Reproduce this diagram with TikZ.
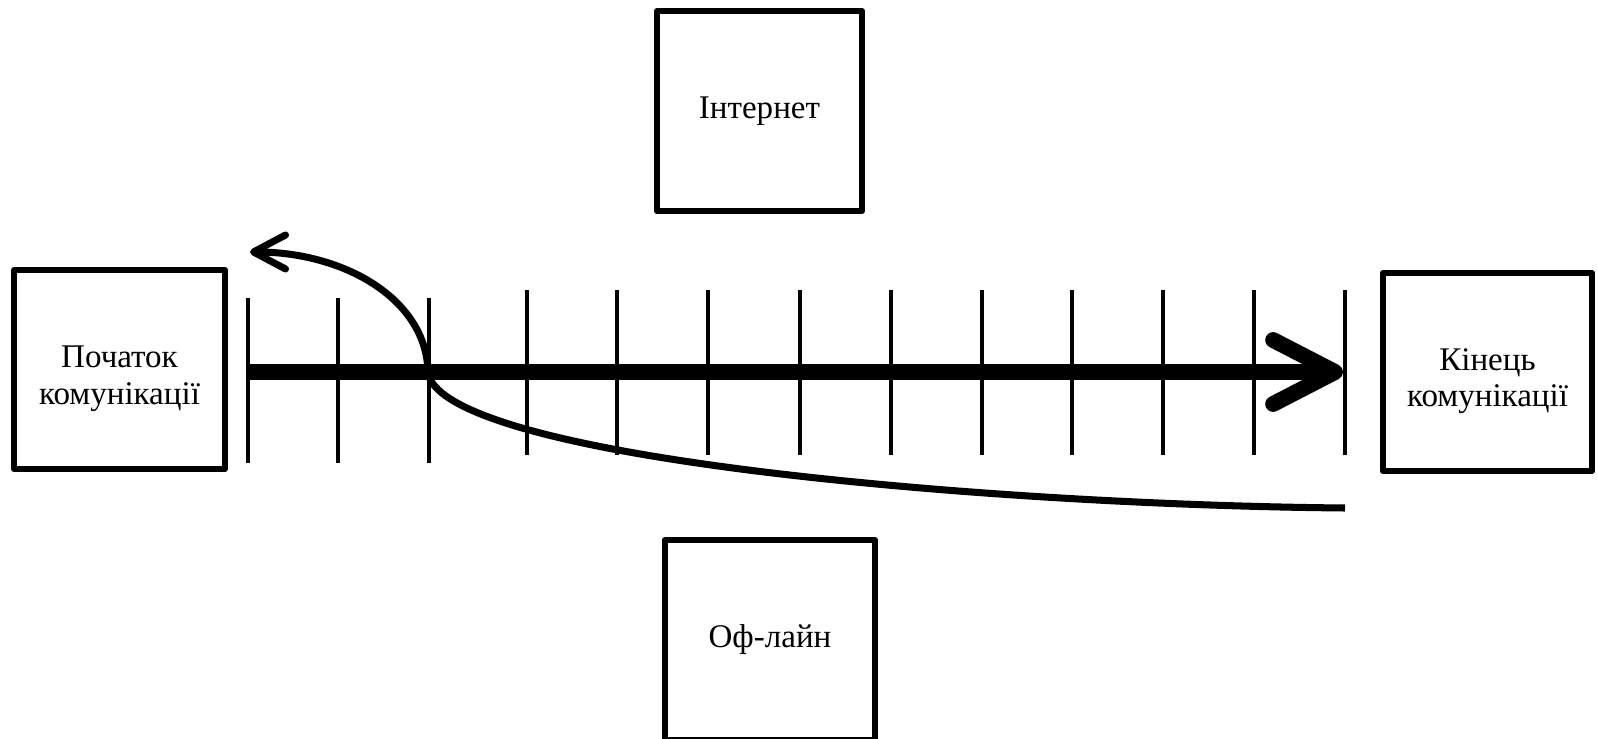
\documentclass[tikz,border=0pt]{standalone}
\usepackage{fontspec}
\setmainfont{Liberation Serif}
\usetikzlibrary{arrows.meta, positioning}

\begin{document}
\begin{tikzpicture}[
    stage/.style={draw, line width=1.7pt, line join=round, minimum width=2.1cm, minimum height=2cm, inner sep=0pt, align=center, font=\fontsize{9.4}{10.4}\selectfont},
    tickmark/.style={line width=1.2pt},
    timeline/.style={line width=4.5pt, -{Straight Barb[length=0.62cm, width=0.64cm, round]}},
    journey/.style={line width=2pt, -{Straight Barb[length=0.32cm, width=0.34cm, round]}}
]
    \useasboundingbox (0,0) rectangle (15.98,-7.39);

    % Boxes
    \node[stage, minimum width=2.11cm, minimum height=1.99cm] (start) at (1.195,-3.695) {\rule{0pt}{0.4cm}Початок\\комунікації};
    \node[stage, minimum width=2.05cm] (internet) at (7.595,-1.11) {Інтернет};
    \node[stage] (offline) at (7.70,-6.40) {Оф-лайн};
    \node[stage, minimum width=2.09cm, minimum height=1.98cm] (finish) at (14.875,-3.72) {\rule{0pt}{0.4cm}Кінець\\комунікації};

    % Scale marks
    \foreach \x in {2.48, 3.38, 4.29}
        \draw[tickmark] (\x,-2.98) -- (\x,-4.63);
    \foreach \x in {5.27, 6.17, 7.08, 8.00, 8.91, 9.82, 10.72, 11.63, 12.54, 13.45}
        \draw[tickmark] (\x,-2.90) -- (\x,-4.55);

    % Time axis
    \coordinate (axisStart) at (2.48,-3.72);
    \coordinate (axisEnd) at (13.43,-3.72);
    \draw[timeline] (axisStart) -- (axisEnd);

    % Return path
    \coordinate (loopEnd) at (13.45,-5.08);
    \coordinate (cross) at (4.28,-3.74);
    \coordinate (backTip) at (2.50,-2.52);
    \draw[journey] (loopEnd) .. controls (10.0,-5.05) and (4.5,-4.6) .. (cross)
        .. controls (4.28,-3.0) and (3.45,-2.52) .. (backTip);
\end{tikzpicture}
\end{document}
